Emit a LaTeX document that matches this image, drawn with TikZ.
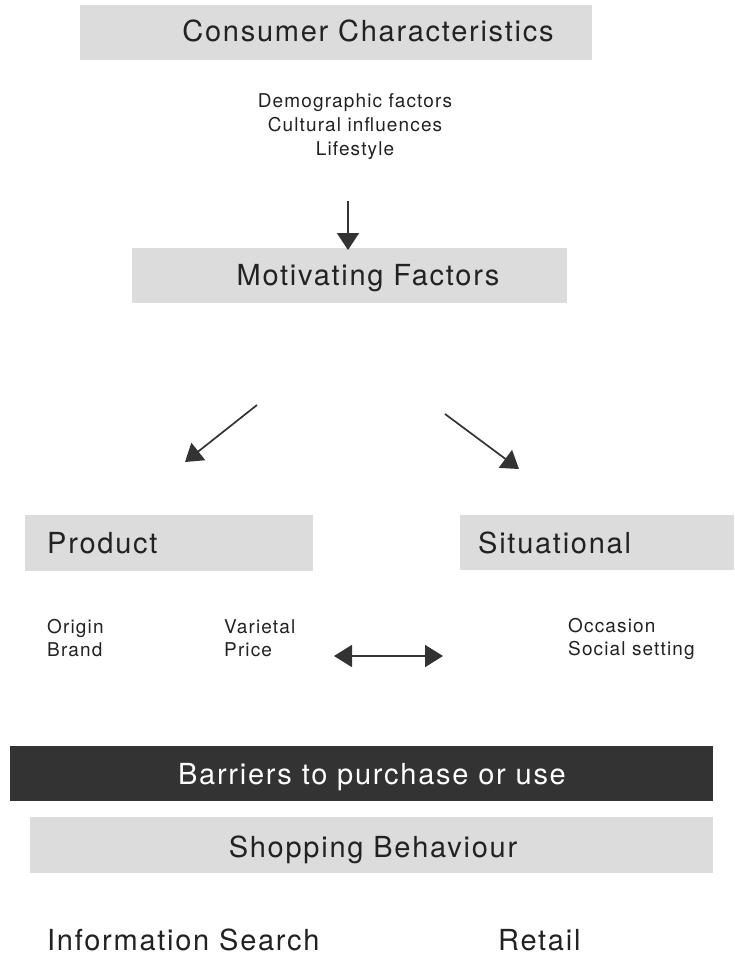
\documentclass[tikz,border=0pt]{standalone}
\usepackage{fontspec}
\setmainfont{TeX Gyre Heros}[LetterSpace=6]
\usetikzlibrary{arrows.meta}
\definecolor{boxgray}{HTML}{DCDCDC}
\definecolor{darkbar}{HTML}{333333}
\definecolor{ink}{HTML}{222222}
\tikzset{
  graybox/.style={fill=boxgray, draw=none, inner sep=0pt, outer sep=0pt, anchor=north west},
  darkbox/.style={fill=darkbar, draw=none, inner sep=0pt, outer sep=0pt, anchor=north west},
  bigtext/.style={font=\fontsize{29}{34}\selectfont, text=ink, inner sep=0pt},
  smalltext/.style={font=\fontsize{19}{23}\selectfont, text=ink, inner sep=0pt},
  arr/.style={line width=1.7pt, draw=darkbar, -{Triangle[length=17pt,width=22pt]}},
  darr/.style={line width=1.7pt, draw=darkbar, {Triangle[length=18pt,width=22pt]}-{Triangle[length=18pt,width=22pt]}}
}
\begin{document}
\begin{tikzpicture}[x=1pt,y=-1pt]
\useasboundingbox[fill=white] (0,0) rectangle (734,966);

% boxes
\node[graybox, minimum width=512pt, minimum height=55pt] (ccbox) at (80,5) {};
\node[graybox, minimum width=435pt, minimum height=55pt] (mfbox) at (132,248) {};
\node[graybox, minimum width=288pt, minimum height=56pt] (pbox) at (25,515) {};
\node[graybox, minimum width=274pt, minimum height=55pt] (sbox) at (460,515) {};
\node[darkbox, minimum width=703pt, minimum height=55pt] (bbox) at (10,746) {};
\node[graybox, minimum width=683pt, minimum height=56pt] (shbox) at (30,817) {};

% titles
\node[bigtext, anchor=base] (cc) at (368,42) {Consumer Characteristics};
\node[smalltext, anchor=base] (demo) at (355,107) {Demographic factors};
\node[smalltext, anchor=base] (cult) at (355,131) {Cultural influences};
\node[smalltext, anchor=base] (life) at (355,155) {Lifestyle};
\node[bigtext, anchor=base] (mf) at (368,285) {Motivating Factors};
\node[bigtext, anchor=base west] (prod) at (47,553) {Product};
\node[bigtext, anchor=base west] (sit) at (478,553) {Situational};
\node[smalltext, anchor=base west] (orig) at (47,633) {Origin};
\node[smalltext, anchor=base west] (brand) at (47,656) {Brand};
\node[smalltext, anchor=base west] (var) at (224,633) {Varietal};
\node[smalltext, anchor=base west] (price) at (224,656) {Price};
\node[smalltext, anchor=base west] (occ) at (568,632) {Occasion};
\node[smalltext, anchor=base west] (soc) at (568,655) {Social setting};
\node[bigtext, anchor=base, text=white] (barr) at (372,784) {Barriers to purchase or use};
\node[bigtext, anchor=base] (shop) at (373,857) {Shopping Behaviour};
\node[bigtext, anchor=base west] (info) at (47,950) {Information Search};
\node[bigtext, anchor=base west] (ret) at (498,950) {Retail};

% arrow end points
\coordinate (a1s) at (348,201);
\coordinate (a1e) at (348,250);
\coordinate (a2s) at (257,405);
\coordinate (a2e) at (185,462);
\coordinate (a3s) at (445,414);
\coordinate (a3e) at (519,469);
\coordinate (a4s) at (334,656);
\coordinate (a4e) at (443,656);

\draw[arr] (a1s) -- (a1e);
\draw[arr] (a2s) -- (a2e);
\draw[arr] (a3s) -- (a3e);
\draw[darr] (a4s) -- (a4e);
\end{tikzpicture}
\end{document}
